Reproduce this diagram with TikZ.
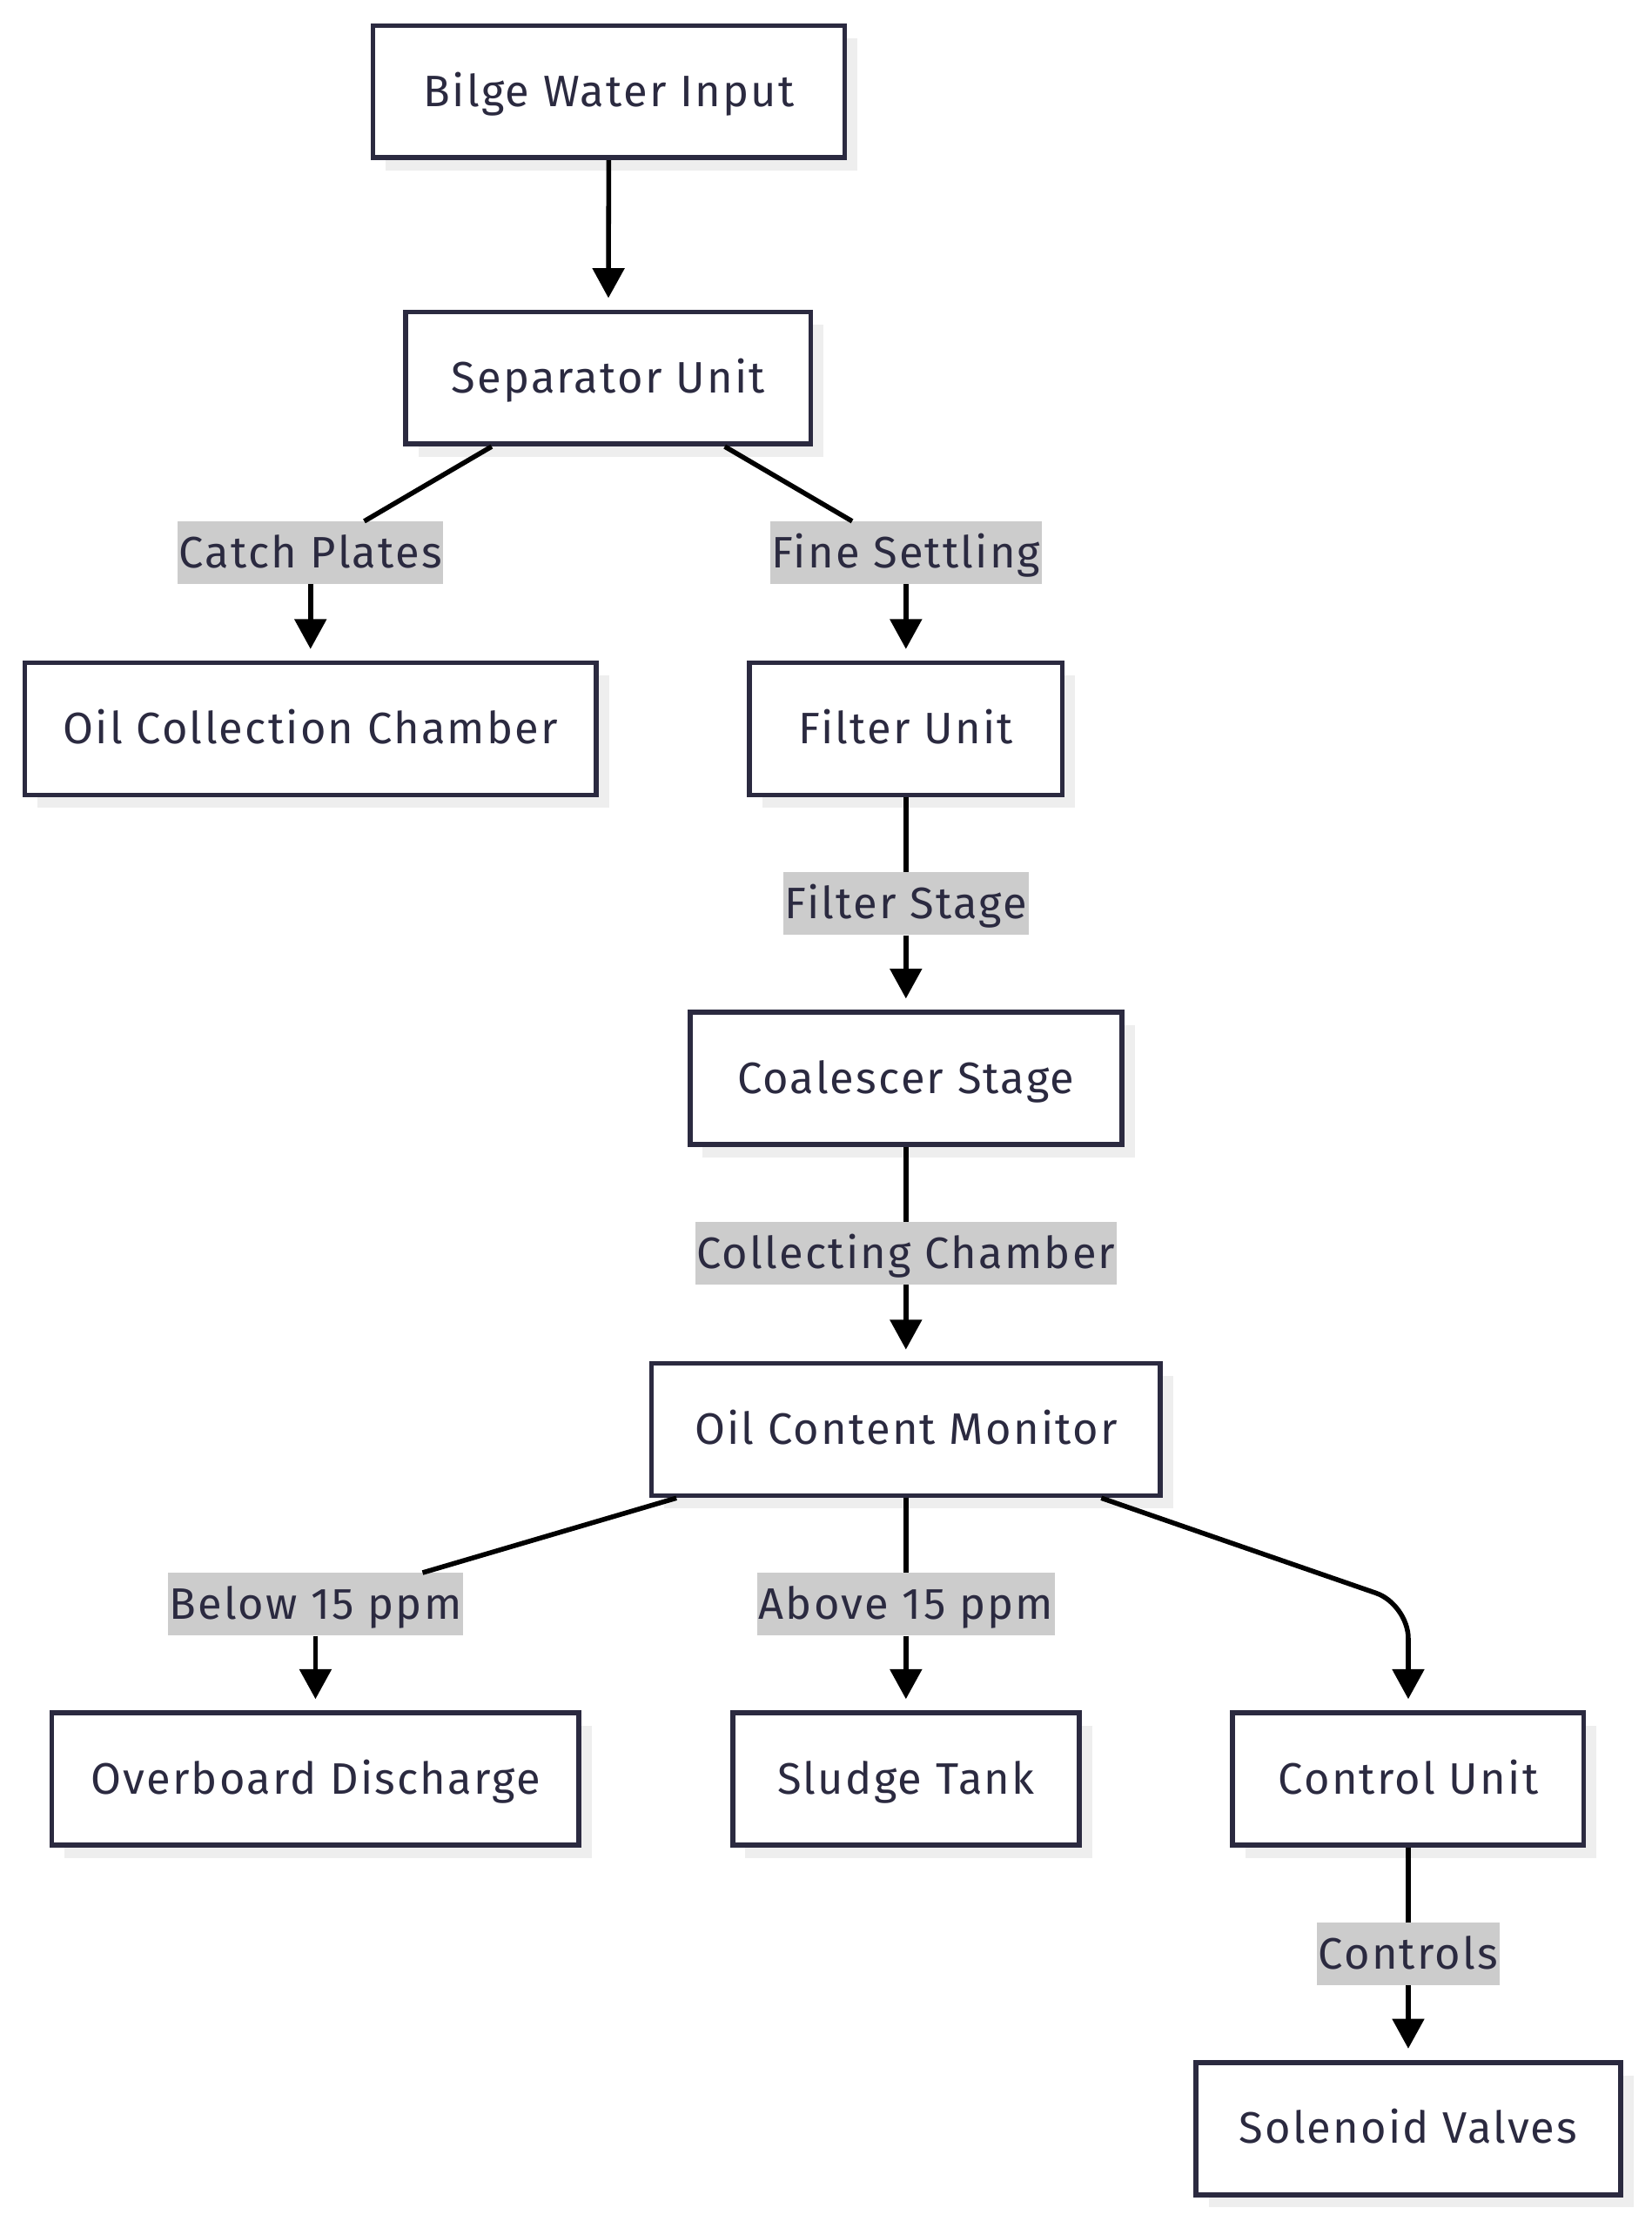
\documentclass[tikz,border=0pt]{standalone}
\usepackage{fontspec}
\setmainfont{Fira Sans}[LetterSpace=4.4]
\usetikzlibrary{arrows.meta,shadows,calc}
\definecolor{ink}{HTML}{2B2A40}
\definecolor{lblbg}{HTML}{CCCCCC}
\definecolor{shade}{HTML}{EEEEEE}
\begin{document}
\begin{tikzpicture}[x=1pt,y=-1pt,
  box/.style={draw=ink, line width=3.5pt, fill=white, text=ink, minimum height=93pt,
    font=\fontsize{31}{35}\selectfont, inner sep=0pt, text height=25pt, text depth=4pt,
    general shadow={fill=shade, shadow xshift=9pt, shadow yshift=-9pt}},
  lbl/.style={fill=lblbg, text=ink, minimum height=44pt, inner xsep=1pt, inner ysep=0pt,
    text height=25pt, text depth=4pt, font=\fontsize{31}{35}\selectfont},
  edge/.style={line width=3.4pt, draw=black},
  arr/.style={edge, -{Triangle[length=21pt,width=22pt]}, shorten >=8pt}
]
\useasboundingbox[fill=white] (0,0) rectangle (1162,1568);

% boxes
\node[box, minimum width=332pt] (bilge) at (428.5,64.5) {Bilge Water Input};
\node[box, minimum width=285pt] (sep) at (428,266) {Separator Unit};
\node[box, minimum width=402pt] (occ) at (218.5,513) {Oil Collection Chamber};
\node[box, minimum width=220pt] (filt) at (637.5,513) {Filter Unit};
\node[box, minimum width=304pt] (coal) at (637.5,759) {Coalescer Stage};
\node[box, minimum width=358pt] (ocm) at (637.5,1006) {Oil Content Monitor};
\node[box, minimum width=371pt] (over) at (222,1252) {Overboard Discharge};
\node[box, minimum width=244pt] (sludge) at (637.5,1252) {Sludge Tank};
\node[box, minimum width=247pt] (ctrl) at (991,1252) {Control Unit};
\node[box, minimum width=299pt] (sol) at (991,1498) {Solenoid Valves};

% labels
\node[lbl] (lcp) at (218.5,389) {Catch Plates};
\node[lbl] (lfs) at (637.5,389) {Fine Settling};
\node[lbl] (lfst) at (637.5,636) {Filter Stage};
\node[lbl] (lcc) at (637.5,882) {Collecting Chamber};
\node[lbl] (lb15) at (222,1129) {Below 15 ppm};
\node[lbl] (la15) at (637.5,1129) {Above 15 ppm};
\node[lbl] (lctl) at (991,1375) {Controls};

\coordinate (bend) at (991,1129);

% edges
\draw[arr] (bilge) -- (sep);
\draw[edge] ([xshift=-82pt]sep.south) -- (lcp);
\draw[arr] (lcp) -- (occ);
\draw[edge] ([xshift=82pt]sep.south) -- (lfs);
\draw[arr] (lfs) -- (filt);
\draw[edge] (filt) -- (lfst);
\draw[arr] (lfst) -- (coal);
\draw[edge] (coal) -- (lcc);
\draw[arr] (lcc) -- (ocm);
\draw[edge] ([xshift=-161.5pt]ocm.south) -- (lb15);
\draw[arr] (lb15) -- (over);
\draw[edge] (ocm) -- (la15);
\draw[arr] (la15) -- (sludge);
\draw[arr, rounded corners=24pt] ([xshift=137.5pt]ocm.south) -- (bend) -- (ctrl.north);
\draw[edge] (ctrl) -- (lctl);
\draw[arr] (lctl) -- (sol);
\end{tikzpicture}
\end{document}
